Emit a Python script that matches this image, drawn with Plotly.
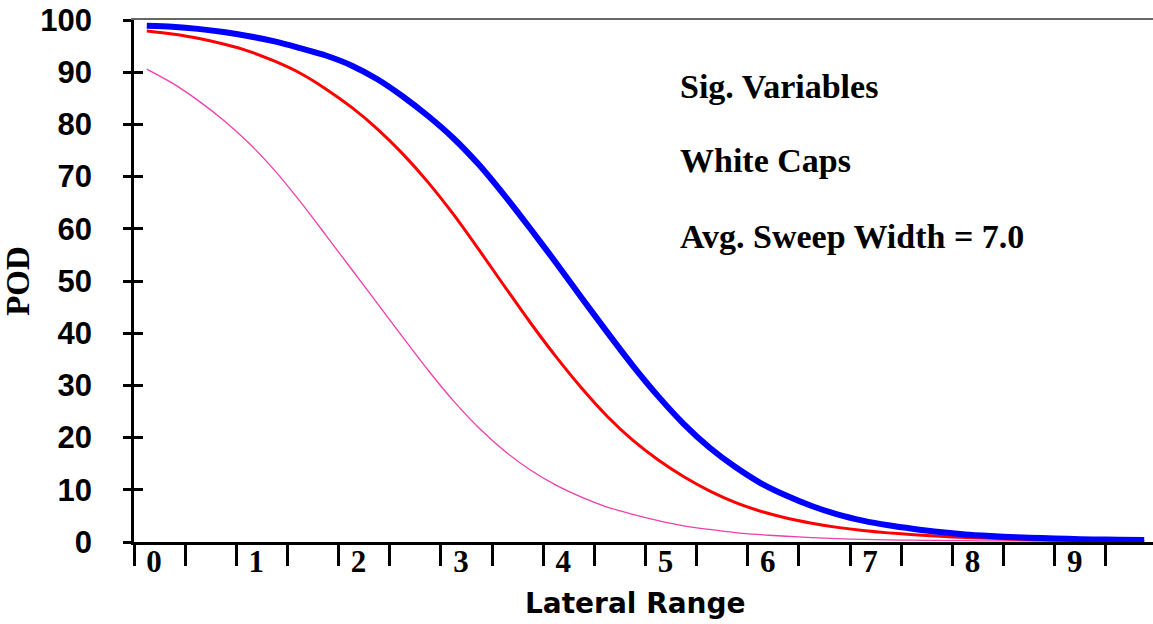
import plotly.graph_objects as go

# Lateral range categories (data points every 0.25)
lateral_range = [0.0, 0.25, 0.5, 0.75, 1.0, 1.25, 1.5, 1.75, 2.0, 2.25,
                 2.5, 2.75, 3.0, 3.25, 3.5, 3.75, 4.0, 4.25, 4.5, 4.75,
                 5.0, 5.25, 5.5, 5.75, 6.0, 6.25, 6.5, 6.75, 7.0, 7.25,
                 7.5, 7.75, 8.0, 8.25, 8.5, 8.75, 9.0, 9.25, 9.5, 9.75]

pod_blue = [98.9, 98.7, 98.3, 97.7, 96.9, 95.9, 94.6, 93.2, 91.3, 88.7,
            85.4, 81.6, 77.3, 72.2, 66.3, 60.0, 53.5, 46.8, 40.2, 33.8,
            27.9, 22.6, 18.1, 14.4, 11.3, 8.9, 6.9, 5.3, 4.1, 3.2,
            2.5, 1.9, 1.45, 1.15, 0.9, 0.75, 0.6, 0.5, 0.45, 0.4]

pod_red = [97.9, 97.3, 96.5, 95.4, 94.0, 92.1, 89.8, 86.8, 83.3, 79.2,
           74.4, 68.9, 62.7, 55.9, 48.9, 42.0, 35.5, 29.5, 24.1, 19.5,
           15.7, 12.5, 9.8, 7.6, 5.9, 4.6, 3.6, 2.8, 2.2, 1.75,
           1.4, 1.1, 0.85, 0.7, 0.55, 0.45, 0.35, 0.3, 0.25, 0.2]

pod_magenta = [90.6, 87.9, 84.6, 80.8, 76.4, 71.2, 65.2, 58.8, 52.3, 45.8,
               39.3, 32.9, 27.0, 21.8, 17.4, 13.8, 10.9, 8.6, 6.7, 5.3,
               4.1, 3.1, 2.4, 1.8, 1.4, 1.1, 0.85, 0.65, 0.5, 0.4,
               0.35, 0.3, 0.25, 0.2, 0.2, 0.15, 0.15, 0.1, 0.1, 0.1]

x_tick_labels = ["0", "1", "2", "3", "4", "5", "6", "7", "8", "9"]
annotation_lines = ["Sig. Variables", "White Caps", "Avg. Sweep Width = 7.0"]

X_RANGE = [-0.125, 9.836]
major_ticks = [-0.125 + k for k in range(10)]
minor_ticks = [0.375 + k for k in range(10)]

SANS = "Liberation Sans, Arial, sans-serif"
WIDE_SANS = "DejaVu Sans, Liberation Sans, Arial, sans-serif"
SERIF = "Liberation Serif, Times New Roman, serif"

W, H = 1153, 624
ML, MT, MB = 92, 20, 82
PLOT_LEFT = 134
x_dom0 = (PLOT_LEFT - ML) / (W - ML)


def px_to_paper_x(px):
    return (px - ML) / (W - ML)


def px_to_paper_y(py):
    return (H - MB - py) / (H - MB - MT)


fig = go.Figure()
fig.add_trace(go.Scatter(x=lateral_range, y=pod_magenta, mode="lines",
                         line=dict(color="#EE3FAA", width=1.3, shape="spline", smoothing=0.8),
                         hoverinfo="skip"))
fig.add_trace(go.Scatter(x=lateral_range, y=pod_red, mode="lines",
                         line=dict(color="#FF0000", width=3, shape="spline", smoothing=0.8),
                         hoverinfo="skip"))
fig.add_trace(go.Scatter(x=lateral_range, y=pod_blue, mode="lines",
                         line=dict(color="#0000FF", width=6, shape="spline", smoothing=0.8),
                         hoverinfo="skip"))
# helper traces for the overlay axes (top border line, inner y ticks, y labels)
fig.add_trace(go.Scatter(x=[0], y=[0], mode="lines", xaxis="x2", yaxis="y2",
                         line=dict(width=0), hoverinfo="skip", showlegend=False))
fig.add_trace(go.Scatter(x=[0], y=[0], mode="lines", xaxis="x", yaxis="y3",
                         line=dict(width=0), hoverinfo="skip", showlegend=False))

fig.update_layout(
    width=W, height=H,
    margin=dict(l=ML, r=0, t=MT, b=MB, autoexpand=False),
    paper_bgcolor="white", plot_bgcolor="white",
    showlegend=False,
    xaxis=dict(
        domain=[x_dom0, 1],
        range=X_RANGE, showgrid=False, zeroline=False, automargin=False,
        showline=True, linecolor="black", linewidth=3,
        tickmode="array", tickvals=major_ticks, ticktext=x_tick_labels,
        ticks="outside", ticklen=21, tickwidth=3, tickcolor="black",
        ticklabelshift=20, ticklabelstandoff=-31,
        tickfont=dict(family=SERIF, size=31, color="black", weight="bold"),
        minor=dict(tickmode="array", tickvals=minor_ticks, ticks="outside",
                   ticklen=21, tickwidth=3, tickcolor="black", showgrid=False),
    ),
    yaxis=dict(
        range=[0, 100], dtick=10, showgrid=False, zeroline=False, automargin=False,
        showline=True, linecolor="black", linewidth=3,
        ticks="outside", ticklen=8, tickwidth=3, tickcolor="black",
        showticklabels=False,
    ),
    xaxis2=dict(
        domain=[x_dom0, 1],
        range=X_RANGE, overlaying="x", side="top", anchor="y2", automargin=False,
        showline=True, linecolor="#666666", linewidth=2,
        ticks="", showticklabels=False, showgrid=False, zeroline=False,
    ),
    yaxis2=dict(
        range=[0, 100], dtick=10, overlaying="y", side="left", anchor="x2",
        automargin=False,
        showline=False, ticks="inside", ticklen=9, tickwidth=3, tickcolor="black",
        showticklabels=False, showgrid=False, zeroline=False,
    ),
    yaxis3=dict(
        range=[0, 100], dtick=10, overlaying="y", side="left",
        anchor="free", position=0, automargin=False,
        showline=False, ticks="", showgrid=False, zeroline=False,
        tickfont=dict(family=SANS, size=31, color="black", weight="bold"),
        title=dict(text="POD",
                   font=dict(family=SERIF, size=33, color="black", weight="bold")),
    ),
)

ann_y = [87, 161, 236]
for text, yy in zip(annotation_lines, ann_y):
    fig.add_annotation(
        text=text, xref="paper", yref="paper", x=px_to_paper_x(678), y=px_to_paper_y(yy),
        xanchor="left", yanchor="middle", showarrow=False,
        font=dict(family=SERIF, size=34, color="black", weight="bold"),
    )

# x-axis title
fig.add_annotation(
    text="Lateral Range", xref="paper", yref="paper",
    x=px_to_paper_x(635), y=px_to_paper_y(603),
    xanchor="center", yanchor="middle", showarrow=False,
    font=dict(family=WIDE_SANS, size=28, color="black", weight="bold"),
)

fig.write_html("out.html", config={"displayModeBar": False},
               post_script="document.body.style.margin='0';document.body.style.padding='0';")
